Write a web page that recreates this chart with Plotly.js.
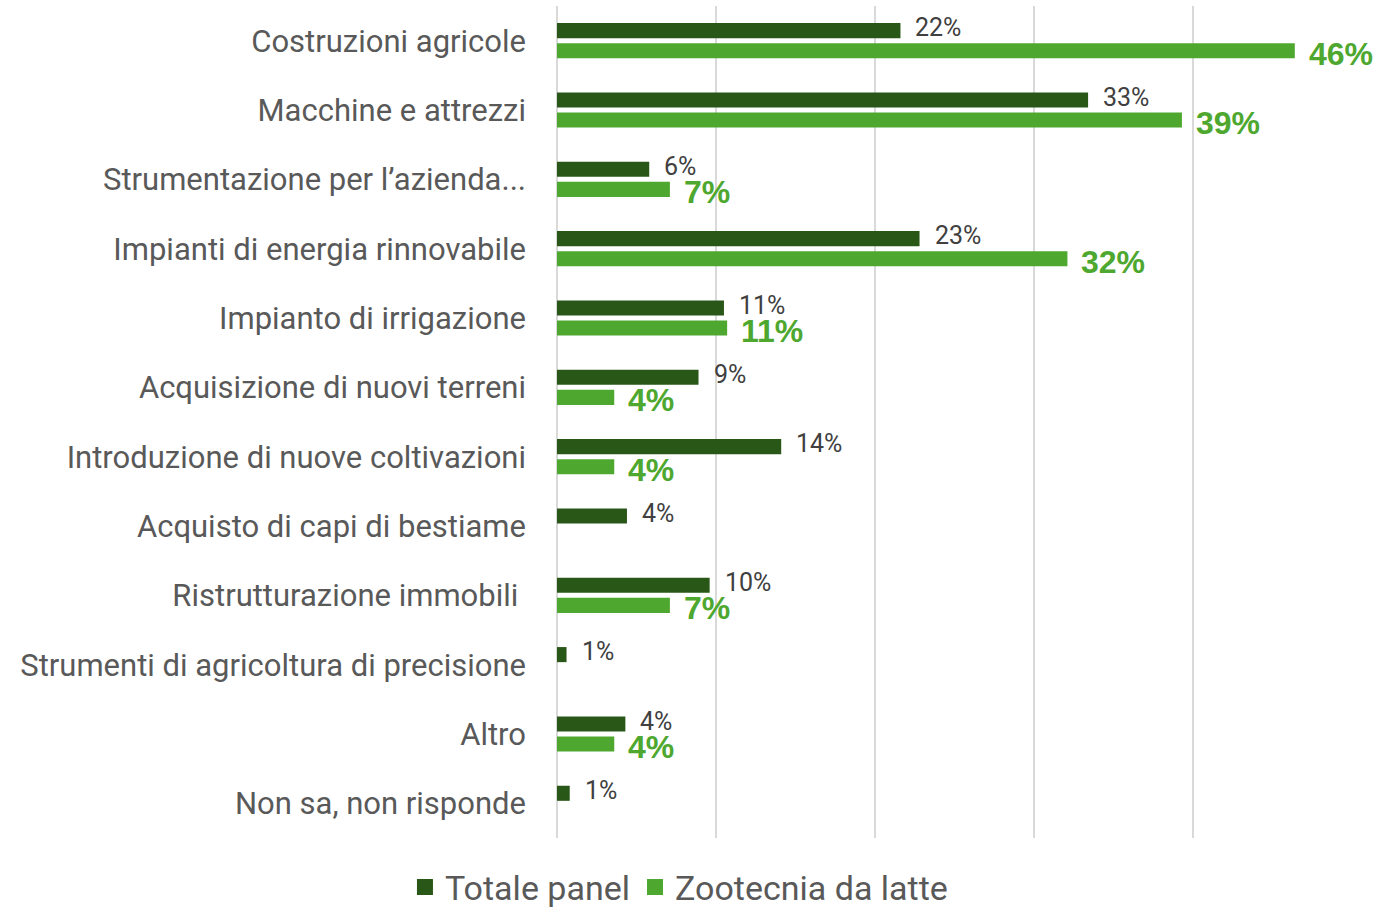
<!DOCTYPE html>
<html><head><meta charset="utf-8">
<script src="https://cdn.plot.ly/plotly-3.0.1.min.js"></script>
<style>html,body{margin:0;padding:0;background:#fff}#chart{width:1380px;height:913px}</style>
</head><body><div id="chart"></div>
<script>
const categories = [
  "Costruzioni agricole",
  "Macchine e attrezzi",
  "Strumentazione per l’azienda...",
  "Impianti di energia rinnovabile",
  "Impianto di irrigazione",
  "Acquisizione di nuovi terreni",
  "Introduzione di nuove coltivazioni",
  "Acquisto di capi di bestiame",
  "Ristrutturazione immobili ",
  "Strumenti di agricoltura di precisione",
  "Altro",
  "Non sa, non risponde"
];
const totalePanel = [21.6, 33.4, 5.8, 22.8, 10.5, 8.9, 14.1, 4.4, 9.6, 0.6, 4.3, 0.8];
const totaleLabels = ["22%","33%","6%","23%","11%","9%","14%","4%","10%","1%","4%","1%"];
const zootecnia = [46.4, 39.3, 7.1, 32.1, 10.7, 3.6, 3.6, null, 7.1, null, 3.6, null];
const zooLabels = ["46%","39%","7%","32%","11%","4%","4%","","7%","","4%",""];
const seriesNames = ["Totale panel", "Zootecnia da latte"];
const colors = ["#295718", "#4ea72e"];

const traces = [
  {type:'bar', orientation:'h', name:seriesNames[0], y:categories, x:totalePanel,
   marker:{color:colors[0]}, showlegend:false},
  {type:'bar', orientation:'h', name:seriesNames[1], y:categories, x:zootecnia,
   marker:{color:colors[1]}, showlegend:false},
  {type:'scatter', mode:'markers', name:seriesNames[0], x:[null], y:[null],
   marker:{symbol:'square', size:20, color:colors[0]}, showlegend:true},
  {type:'scatter', mode:'markers', name:seriesNames[1], x:[null], y:[null],
   marker:{symbol:'square', size:20, color:colors[1]}, showlegend:true}
];

const annotations = [];
categories.forEach((c, i) => {
  if (totalePanel[i] != null) annotations.push({
    x: totalePanel[i], y: c, xref:'x', yref:'y', text: totaleLabels[i], showarrow:false,
    xanchor:'left', yanchor:'middle', xshift:13, yshift:13,
    font:{family:'Roboto, Arial, sans-serif', size:25, color:'#404040'}
  });
  if (zootecnia[i] != null) annotations.push({
    x: zootecnia[i], y: c, xref:'x', yref:'y', text: zooLabels[i], showarrow:false,
    xanchor:'left', yanchor:'middle', xshift:12, yshift:-13,
    font:{family:'Arial, sans-serif', size:32, color:colors[1], weight:'bold'}
  });
});

const layout = {
  width:1380, height:913,
  margin:{l:557, r:27, t:6, b:75},
  paper_bgcolor:'#fff', plot_bgcolor:'#fff',
  barmode:'group', bargap:0.42, bargroupgap:0.25,
  showlegend:true,
  annotations: annotations,
  legend:{orientation:'h', xref:'container', yref:'container', x:0.492, xanchor:'center',
          y:0.028, yanchor:'middle', itemsizing:'trace',
          font:{family:'Roboto, Arial, sans-serif', size:34, color:'#595959'},
          itemwidth:30, traceorder:'normal'},
  xaxis:{range:[0,50.06], dtick:10, showticklabels:false, showgrid:true,
         gridcolor:'#d9d9d9', gridwidth:1.5, zeroline:true, zerolinecolor:'#d9d9d9',
         zerolinewidth:1.5, fixedrange:true},
  yaxis:{autorange:'reversed', type:'category', showgrid:false, zeroline:false,
         ticks:'', ticklabelstandoff:30,
         tickfont:{family:'Roboto, Arial, sans-serif', size:31, color:'#595959'}},
  font:{family:'Roboto, Arial, sans-serif'}
};
Plotly.newPlot('chart', traces, layout, {displayModeBar:false, staticPlot:true});
</script></body></html>
